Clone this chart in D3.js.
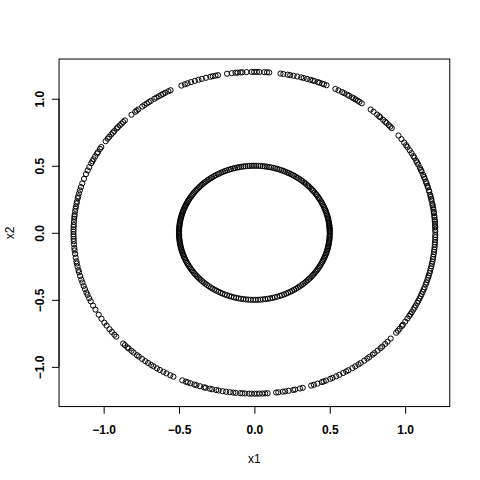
<!DOCTYPE html>
<html>
<head>
<meta charset="utf-8">
<script src="https://cdn.jsdelivr.net/npm/d3@7"></script>
<style>
  body { margin: 0; background: #fff; }
  svg { display: block; }
  text { font-family: "Liberation Sans", Arial, sans-serif; fill: #000; }
</style>
</head>
<body>
<div id="chart"></div>
<script>
// angles (degrees) of the points on each ring
var outerRadius = 1.2,
  innerRadius = 0.5;

var outerAngles = [
  0.4, 1.1, 1.9, 2.3, 3.2, 4.0, 4.6, 5.5, 6.1, 7.0, 7.4, 8.3, 9.1, 9.8, 10.4, 11.5, 12.2, 12.9, 13.6, 14.8,
  15.3, 16.4, 17.0, 17.9, 18.5, 19.6, 20.3, 21.1, 22.4, 23.0, 23.8, 25.1, 25.9, 26.6, 27.8, 28.5, 29.7, 30.9,
  32.2, 33.0, 34.1, 35.6, 37.2,
  40.6, 41.3, 42.0, 43.1, 43.7, 44.6, 45.9, 46.4, 47.3, 48.8, 50.0,
  53.6, 54.5, 55.2, 56.0, 56.7, 57.3, 58.4, 59.1, 60.2, 61.0, 62.3, 63.4,
  66.5, 67.4, 68.0, 68.9, 69.5, 70.6, 71.2, 72.0, 73.1, 74.2, 75.0, 76.3, 77.5, 78.6, 79.4, 80.8, 81.7,
  85.3, 86.0, 86.9, 88.4, 89.2, 90.1, 90.9, 92.5, 93.8, 94.4, 95.3, 96.0, 97.2, 98.7,
  101.6, 102.4, 103.3, 104.1, 105.5, 106.9, 108.0, 109.2, 110.5, 111.7, 112.6, 113.8,
  117.6, 118.4, 119.5, 120.3, 121.0, 121.9, 122.8, 123.6, 124.9, 125.7, 126.5, 127.4, 128.3, 129.9, 130.6, 131.2, 132.8,
  135.7, 136.5, 137.3, 138.1, 139.0, 139.6, 140.8, 141.5, 142.3, 143.4, 144.2, 145.3,
  147.8, 148.6, 149.9, 150.5, 151.7, 152.8, 153.6, 154.4, 155.9, 157.2, 158.6, 160.4, 162.1, 163.5, 164.7,
  165.8, 166.9, 167.6, 168.8, 169.5, 170.6, 171.4, 172.3, 173.5, 174.2, 175.0, 176.1, 177.2, 177.9, 178.8,
  179.6, 180.5, 181.3, 182.2, 183.0, 184.1, 185.4, 186.3, 187.5, 188.9, 190.2, 191.0, 192.1, 193.4, 194.2,
  195.6, 196.9, 198.0, 199.3, 200.5, 201.8, 202.7, 204.0, 205.2, 206.9, 208.5,
  210.6, 212.3, 214.0, 215.2, 216.8, 218.0, 219.3, 220.2,
  223.5, 224.3, 225.4, 226.0, 227.2, 228.1, 229.5, 230.3, 231.6, 232.9, 234.0, 235.2, 236.1, 237.4, 238.5,
  239.8, 240.9, 242.3, 243.4,
  246.5, 247.7, 248.4, 249.3, 250.6, 251.3, 252.5, 253.8, 254.4, 255.7, 256.5, 257.8, 258.6, 259.9, 261.0,
  262.2, 263.3, 264.1, 265.5, 266.2, 267.0, 268.3, 269.1, 270.0, 270.8, 271.6, 272.5, 273.4, 274.2,
  276.9, 277.6, 279.0, 279.8, 280.9, 282.4, 283.0, 284.6, 285.5,
  288.3, 289.2, 290.4, 291.9, 292.5, 293.3, 294.8, 295.6, 296.9, 298.0, 299.4, 300.5, 301.3, 302.8, 303.9,
  305.1, 306.0, 307.4, 308.6, 309.5, 310.8, 311.6, 312.9, 314.2, 315.0, 316.3, 317.4, 318.9,
  321.6, 322.5, 323.4, 324.6, 325.2, 326.5, 327.8, 328.9, 329.6, 330.4, 331.5, 332.3, 333.1, 334.2, 335.0,
  335.9, 336.8, 337.6, 338.5, 339.4, 340.2, 341.3, 342.0, 342.9, 343.8, 344.6, 345.5, 346.3, 347.2, 348.0,
  348.9, 349.7, 350.6, 351.4, 352.3, 353.2, 354.0, 354.9, 355.8, 356.6, 357.5, 358.4, 359.2
];

var innerAngles = [
  0.3, 1.2, 2.0, 2.9, 3.8, 4.5, 5.6, 6.4, 7.1, 8.3, 9.0, 10.2, 11.5, 12.4, 13.6, 14.9, 16.1, 17.3, 18.8, 20.0,
  21.4, 22.7, 24.3, 25.5, 26.8, 28.0, 29.9, 31.2, 32.6, 34.1, 35.3, 36.9, 38.5, 39.6, 41.0, 42.8, 44.1, 45.5,
  47.2, 48.6, 50.3, 51.7, 53.4, 55.0, 56.3, 58.1, 59.6, 61.2, 62.9, 64.1, 65.8, 67.5, 69.0, 70.6, 72.4, 74.0,
  75.3, 77.1, 78.8, 80.5, 82.0, 83.6, 85.4, 87.0, 88.7, 90.3, 91.9, 93.6, 95.1, 96.9, 98.4, 100.0, 101.8,
  103.2, 104.9, 106.4, 108.1, 109.6, 111.3, 112.9, 114.4, 116.0, 117.7, 119.1, 120.8, 122.3, 124.0, 125.4,
  127.0, 128.5, 130.1, 131.4, 132.9, 134.3, 135.8, 137.1, 138.6, 139.9, 141.3, 142.6, 143.9, 145.3, 146.5,
  147.8, 149.2, 150.4, 151.6, 152.9, 154.0, 155.3, 156.4, 157.6, 158.7, 159.9, 161.0, 162.1, 163.3, 164.4,
  165.5, 166.6, 167.8, 168.9, 170.0, 171.2, 172.3, 173.4, 174.5, 175.6, 176.8, 177.9, 179.0, 180.1, 181.3,
  182.4, 183.5, 184.7, 185.8, 186.9, 188.1, 189.2, 190.4, 191.5, 192.7, 193.9, 195.0, 196.3, 197.5, 198.8,
  200.0, 201.3, 202.6, 203.9, 205.3, 206.6, 208.0, 209.4, 210.9, 212.3, 213.8, 215.2, 216.7, 218.3, 219.8,
  221.4, 223.0, 224.5, 226.2, 227.8, 229.5, 231.1, 232.8, 234.6, 236.2, 238.0, 239.7, 241.5, 243.3, 245.0,
  246.9, 248.6, 250.5, 252.3, 254.2, 256.0, 257.9, 259.8, 261.6, 263.5, 265.3, 267.2, 269.1, 270.9, 272.8,
  274.6, 276.5, 278.3, 280.2, 282.0, 283.9, 285.6, 287.5, 289.8, 291.5, 293.2, 295.0, 296.7, 298.5, 300.2,
  301.9, 303.6, 305.3, 306.9, 308.6, 310.2, 311.8, 313.4, 315.0, 316.6, 318.1, 319.7, 321.2, 322.7, 324.2,
  325.7, 327.1, 328.6, 330.0, 331.4, 332.8, 334.2, 335.5, 336.9, 338.2, 339.5, 340.8, 342.1, 343.4, 344.6,
  345.9, 347.1, 348.3, 349.5, 350.7, 351.9, 353.1, 354.2, 355.4, 356.5, 357.7, 358.8
];

var xTicks = [-1.0, -0.5, 0.0, 0.5, 1.0];
var yTicks = [-1.0, -0.5, 0.0, 0.5, 1.0];
var xLabel = "x1",
  yLabel = "x2";

// build the x1/x2 table from the ring readings
function toPoints(angles, r) {
  return angles.map(function (a) {
    var t = (a * Math.PI) / 180;
    return { x1: r * Math.cos(t), x2: r * Math.sin(t) };
  });
}
var points = toPoints(outerAngles, outerRadius).concat(toPoints(innerAngles, innerRadius));

var width = 480,
  height = 480;
var margin = { top: 59.04, right: 30.24, bottom: 73.44, left: 59.04 };

// R style: range expanded by 4%
var lim = 1.2 * 1.08;

var x = d3.scaleLinear().domain([-lim, lim]).range([margin.left, width - margin.right]);
var y = d3.scaleLinear().domain([-lim, lim]).range([height - margin.bottom, margin.top]);

var svg = d3
  .select("#chart")
  .append("svg")
  .attr("width", width)
  .attr("height", height);

svg.append("rect").attr("width", width).attr("height", height).attr("fill", "#fff");

// points
svg
  .append("g")
  .selectAll("circle")
  .data(points)
  .enter()
  .append("circle")
  .attr("cx", function (d) { return x(d.x1); })
  .attr("cy", function (d) { return y(d.x2); })
  .attr("r", 2.6)
  .attr("fill", "none")
  .attr("stroke", "#000")
  .attr("stroke-width", 1);

// axes
var xAxis = d3.axisBottom(x).tickValues(xTicks).tickSize(7.2).tickPadding(4).tickFormat(d3.format(".1f"));
var yAxis = d3.axisLeft(y).tickValues(yTicks).tickSize(7.2).tickFormat(d3.format(".1f"));

var gx = svg
  .append("g")
  .attr("transform", "translate(0," + (height - margin.bottom) + ")")
  .call(xAxis);
gx.select(".domain")
  .attr("d", "M" + x(xTicks[0]) + ",0H" + x(xTicks[xTicks.length - 1]));

gx.selectAll("text")
  .attr("y", 27.5)
  .attr("dy", null)
  .attr("font-size", 12)
  .attr("font-weight", "bold")
  .attr("font-family", "Liberation Sans, Arial, sans-serif")
  .attr("fill", "#000");

var gy = svg
  .append("g")
  .attr("transform", "translate(" + margin.left + ",0)")
  .call(yAxis);
gy.select(".domain")
  .attr("d", "M0," + y(yTicks[0]) + "V" + y(yTicks[yTicks.length - 1]));

gy.selectAll(".tick text")
  .attr("x", null)
  .attr("dy", null)
  .attr("text-anchor", "middle")
  .attr("transform", "translate(-15.5,0) rotate(-90)")
  .attr("font-size", 12)
  .attr("font-weight", "bold")
  .attr("font-family", "Liberation Sans, Arial, sans-serif")
  .attr("fill", "#000");

svg.selectAll(".tick line, .domain").attr("stroke", "#000").attr("stroke-width", 1);

// box
svg
  .append("rect")
  .attr("x", margin.left)
  .attr("y", margin.top)
  .attr("width", width - margin.left - margin.right)
  .attr("height", height - margin.top - margin.bottom)
  .attr("fill", "none")
  .attr("stroke", "#000")
  .attr("stroke-width", 1);

// axis titles
svg
  .append("text")
  .attr("x", (margin.left + width - margin.right) / 2)
  .attr("y", 462.5)
  .attr("text-anchor", "middle")
  .attr("font-size", 12)
  .text(xLabel);

svg
  .append("text")
  .attr("transform", "translate(13.5," + (margin.top + height - margin.bottom) / 2 + ") rotate(-90)")
  .attr("text-anchor", "middle")
  .attr("font-size", 12)
  .text(yLabel);
</script>
</body>
</html>
